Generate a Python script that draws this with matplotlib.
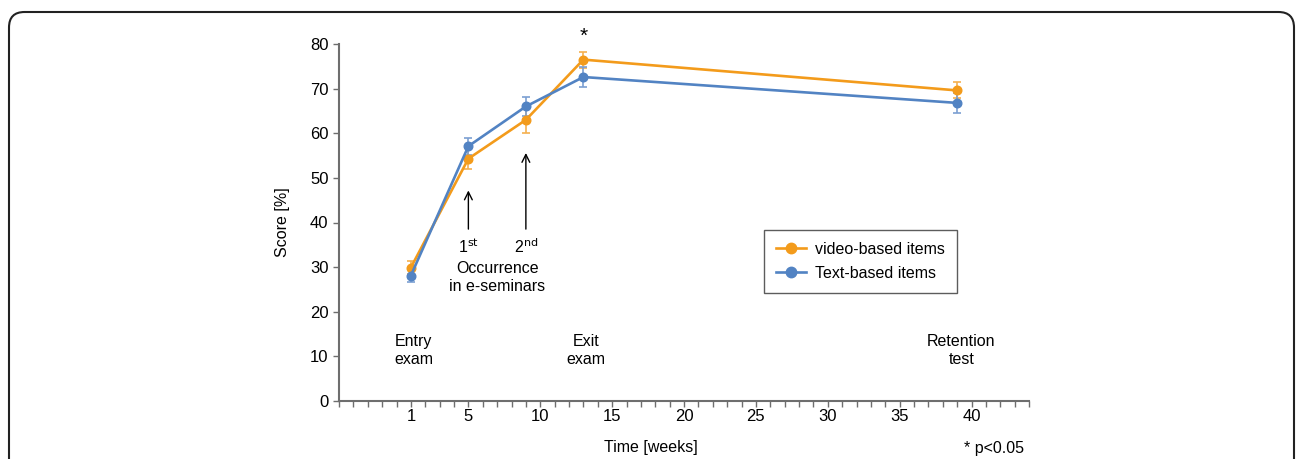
import matplotlib
matplotlib.use("Agg")
import matplotlib.pyplot as plt
from matplotlib.patches import FancyBboxPatch
from matplotlib.lines import Line2D
from matplotlib.ticker import FixedLocator, MultipleLocator

plt.rcParams['font.family'] = ['Liberation Sans', 'DejaVu Sans']

weeks = [1, 5, 9, 13, 39]
video_scores = [29.9, 54.3, 63.0, 76.5, 69.6]
video_err = [1.5, 2.4, 2.9, 1.8, 1.8]
text_scores = [28.1, 57.1, 66.0, 72.6, 66.8]
text_err = [1.5, 1.9, 2.1, 2.2, 2.3]
series_names = ["video-based items", "Text-based items"]
x_tick_labels = [1, 5, 10, 15, 20, 25, 30, 35, 40]
y_ticks = [0, 10, 20, 30, 40, 50, 60, 70, 80]

orange = '#F39B1B'
blue = '#5283C3'
orange_err = '#F5B04F'
blue_err = '#7C9FD2'
axis_gray = '#6E6E6E'

fig = plt.figure(figsize=(12.96, 4.59), dpi=100)
ax = fig.add_axes([339/1296, 1 - 401/459, 690/1296, 357/459])

ax.errorbar(weeks, video_scores, yerr=video_err, color=orange, lw=1.9,
            marker='o', ms=6.2, capsize=3, elinewidth=1.2, capthick=1.2,
            ecolor=orange_err, zorder=3)
ax.errorbar(weeks, text_scores, yerr=text_err, color=blue, lw=1.9,
            marker='o', ms=6.2, capsize=3, elinewidth=1.2, capthick=1.2,
            ecolor=blue_err, zorder=3)

ax.set_xlim(-4, 44)
ax.set_ylim(0, 80)
ax.xaxis.set_major_locator(FixedLocator(x_tick_labels))
ax.xaxis.set_minor_locator(MultipleLocator(1))
ax.set_yticks(y_ticks)
ax.tick_params(axis='x', which='both', length=4, width=1, color=axis_gray,
               labelsize=12, pad=1.5)
ax.tick_params(axis='y', length=4.5, width=1, color=axis_gray, labelsize=12, pad=3)

for s in ['top', 'right']:
    ax.spines[s].set_visible(False)
for s in ['left', 'bottom']:
    ax.spines[s].set_color(axis_gray)
    ax.spines[s].set_linewidth(1.5)

fs = 11.5
ax.set_xlabel("Time [weeks]", fontsize=fs)
ax.xaxis.set_label_coords((651 - 339) / 690, -(440 - 401) / 357)
ax.set_ylabel("Score [%]", fontsize=fs)
ax.yaxis.set_label_coords(-(339 - 290) / 690, 0.5)

ax.text(1.2, 11.3, "Entry\nexam", ha='center', va='center', fontsize=fs, linespacing=1.3)
ax.text(13.2, 11.3, "Exit\nexam", ha='center', va='center', fontsize=fs, linespacing=1.3)
ax.text(39.3, 11.3, "Retention\ntest", ha='center', va='center', fontsize=fs, linespacing=1.3)
ax.text(13, 81.8, "*", ha='center', va='center', fontsize=15)

ax.annotate("", xy=(5, 47.8), xytext=(5, 37.9),
            arrowprops=dict(arrowstyle='->', color='black', lw=1.0,
                            mutation_scale=14))
ax.annotate("", xy=(9, 56.2), xytext=(9, 37.9),
            arrowprops=dict(arrowstyle='->', color='black', lw=1.0,
                            mutation_scale=14))
ax.text(5, 34.6, r"1$^{\mathrm{st}}$", ha='center', va='center', fontsize=fs)
ax.text(9, 34.6, r"2$^{\mathrm{nd}}$", ha='center', va='center', fontsize=fs)
ax.text(7, 27.7, "Occurrence\nin e-seminars", ha='center', va='center',
        fontsize=fs, linespacing=1.3)

handles = [Line2D([], [], color=orange, lw=1.9, marker='o', ms=7.5),
           Line2D([], [], color=blue, lw=1.9, marker='o', ms=7.5)]
leg = ax.legend(handles, series_names, loc='upper left',
                bbox_to_anchor=((764 - 339) / 690, (401 - 230) / 357), fontsize=fs,
                frameon=True, fancybox=False, edgecolor='#333333',
                borderpad=0.75, handlelength=1.9, handletextpad=0.55,
                labelspacing=0.55, borderaxespad=0)
leg.get_frame().set_linewidth(1.0)

fig.text(1024 / 1296, 1 - 448 / 459, "* p<0.05", ha='right', va='center', fontsize=fs)

border = FancyBboxPatch((9 / 1296, -0.1), (1294 - 9) / 1296, (1 - 12 / 459) + 0.1,
                        boxstyle="round,pad=0,rounding_size=0.012",
                        transform=fig.transFigure, fill=False, edgecolor='#222222',
                        lw=1.5, mutation_aspect=1296 / 459)
fig.patches.append(border)

fig.savefig("out.png", dpi=100)
